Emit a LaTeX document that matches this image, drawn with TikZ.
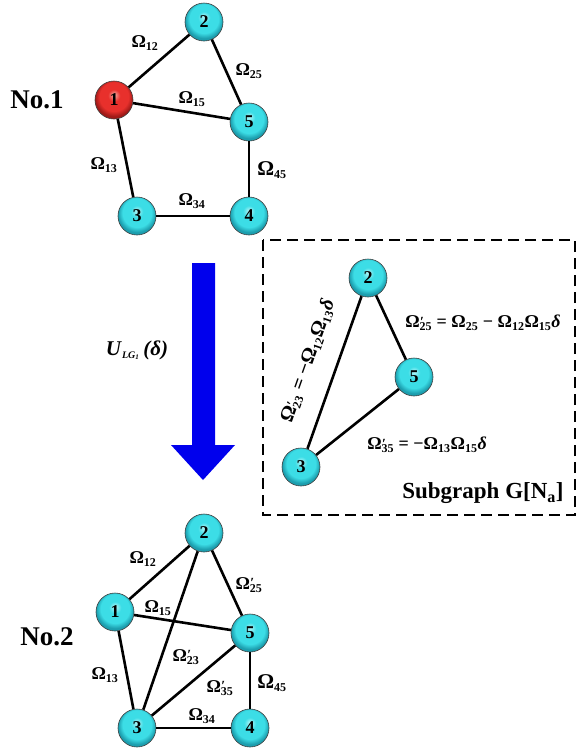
\documentclass[tikz,border=0pt]{standalone}
\usepackage{fontspec}
\setmainfont{Liberation Serif}
\definecolor{cyL}{HTML}{B8F7F9}
\definecolor{cyM}{HTML}{3CDDE6}
\definecolor{cyD}{HTML}{1C9EAE}
\definecolor{rdL}{HTML}{F8B0A8}
\definecolor{rdM}{HTML}{E8302C}
\definecolor{rdD}{HTML}{A01A18}
\pgfdeclareradialshading{cyball}{\pgfpoint{0bp}{7bp}}{color(0bp)=(cyL); color(8bp)=(cyM); color(19bp)=(cyM); color(25bp)=(cyD); color(50bp)=(cyD)}
\pgfdeclareradialshading{rdball}{\pgfpoint{0bp}{7bp}}{color(0bp)=(rdL); color(8bp)=(rdM); color(19bp)=(rdM); color(25bp)=(rdD); color(50bp)=(rdD)}
\newcommand\Om[1]{Ω\textsubscript{\fontsize{12}{12}\selectfont #1}}
\newcommand\Omp[1]{Ω\rlap{\kern0.5pt\raisebox{0.2ex}{\fontsize{14}{14}\selectfont ′}}\textsubscript{\fontsize{12}{12}\selectfont #1}}
\begin{document}
\begin{tikzpicture}[x=1pt,y=-1pt,
  vtx/.style={circle,minimum size=38pt,inner sep=0pt,shading=cyball,draw=black!75,line width=0.6pt,
    font=\fontsize{18}{18}\selectfont\bfseries},
  rvtx/.style={vtx,shading=rdball},
  edge/.style={line width=2.6pt},
  lab/.style={font=\fontsize{18}{18}\selectfont\bfseries,inner sep=0pt},
  biglab/.style={font=\fontsize{21}{21}\selectfont\bfseries,inner sep=0pt},
  title/.style={font=\fontsize{27}{27}\selectfont\bfseries}]
\useasboundingbox (0,0) rectangle (577,756);
% No.1
\node[title] (t1) at (37,100) {No.1};
\node[rvtx] (a1) at (114,100) {1};
\node[vtx] (a2) at (204,22) {2};
\node[vtx] (a5) at (249,122) {5};
\node[vtx] (a3) at (137,216) {3};
\node[vtx] (a4) at (249,216) {4};
\draw[edge] (a1) -- (a2);
\draw[edge] (a2) -- (a5);
\draw[edge] (a1) -- (a5);
\draw[edge] (a1) -- (a3);
\draw[edge] (a3) -- (a4);
\draw[edge] (a5) -- (a4);
\node[lab] (l12) at (145,43) {\Om{12}};
\node[lab] (l25) at (249,71) {\Om{25}};
\node[lab] (l15) at (192,99) {\Om{15}};
\node[lab] (l13) at (104,165) {\Om{13}};
\node[biglab] (l45) at (272,170) {\Om{45}};
\node[lab] (l34) at (192,201) {\Om{34}};
% arrow
\fill[blue!93!black] (192,263) -- (215,263) -- (215,445) -- (235,445) -- (203,480) -- (171,445) -- (192,445) -- cycle;
\node[font=\fontsize{21}{21}\selectfont\bfseries\itshape,inner sep=0pt] (u) at (137,350)
  {U\kern1pt\textsubscript{\fontsize{10}{10}\selectfont LG\textsubscript{\fontsize{7}{7}\selectfont 1}}\,(δ)};
% subgraph
\draw[line width=1.4pt,dash pattern=on 11pt off 6pt] (263,240) rectangle (575,515);
\node[vtx] (b2) at (368,278) {2};
\node[vtx] (b5) at (414,377) {5};
\node[vtx] (b3) at (301,467) {3};
\draw[edge] (b2) -- (b5);
\draw[edge] (b5) -- (b3);
\draw[edge] (b3) -- (b2);
\node[lab] (m25) at (483,323) {\Omp{25} = \Om{25} − \Om{12}\Om{15}\textit{δ}};
\node[lab] (m35) at (427,445) {\Omp{35} = −\Om{13}\Om{15}\textit{δ}};
\node[lab,font=\fontsize{20}{20}\selectfont\bfseries,rotate=70.6] (m23) at (308,361) {\Omp{23} = −\Om{12}\Om{13}\textit{δ}};
\node[font=\fontsize{23}{23}\selectfont\bfseries,inner sep=0pt] (sg) at (483,493) {Subgraph G[N\textsubscript{a}]};
% No.2
\node[title] (t2) at (47,637) {No.2};
\node[vtx] (c1) at (115,612) {1};
\node[vtx] (c2) at (204,533) {2};
\node[vtx] (c5) at (250,633) {5};
\node[vtx] (c3) at (137,728) {3};
\node[vtx] (c4) at (250,728) {4};
\draw[edge] (c1) -- (c2);
\draw[edge] (c2) -- (c5);
\draw[edge] (c1) -- (c5);
\draw[edge] (c1) -- (c3);
\draw[edge] (c2) -- (c3);
\draw[edge] (c3) -- (c5);
\draw[edge] (c5) -- (c4);
\draw[edge] (c3) -- (c4);
\node[lab] (n12) at (143,559) {\Om{12}};
\node[lab] (n25) at (249,585) {\Omp{25}};
\node[lab] (n15) at (158,608) {\Om{15}};
\node[lab] (n23) at (186,657) {\Omp{23}};
\node[lab] (n35) at (220,688) {\Omp{35}};
\node[lab] (n13) at (105,675) {\Om{13}};
\node[biglab] (n45) at (272,683) {\Om{45}};
\node[lab] (n34) at (202,716) {\Om{34}};
\end{tikzpicture}
\end{document}
